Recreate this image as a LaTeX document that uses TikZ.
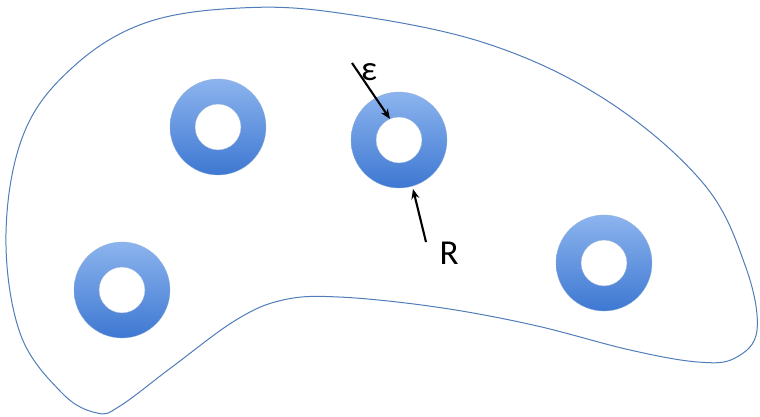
\documentclass[tikz,border=0pt]{standalone}
\usepackage{fontspec}
\setmainfont{Carlito}
\usetikzlibrary{arrows.meta}
\definecolor{ringtop}{RGB}{140,180,238}
\definecolor{ringbot}{RGB}{62,120,210}
\definecolor{ringedge}{RGB}{70,120,190}
\definecolor{blobedge}{RGB}{80,125,185}
\tikzset{
  ring/.style={even odd rule, top color=ringtop, bottom color=ringbot},
  pointer/.style={-{Stealth[length=10pt,width=8pt]}, line width=2.1pt, black},
  lab/.style={font=\fontsize{35}{37}\selectfont, inner sep=0pt}
}
\begin{document}
\begin{tikzpicture}[x=1pt,y=-1pt]
\useasboundingbox (0,0) rectangle (760,416);
% blob
\draw[blobedge, line width=1pt] plot[smooth cycle, tension=0.62] coordinates {
 (240,8) (339,13) (485,43) (606,100) (703,183) (745,265) (757,330)
 (735,358) (698,362) (630,350) (533,325) (436,307) (339,297)
 (283,300) (236,320) (172,367) (120,406) (97,413) (62,393)
 (20,333) (6,233) (24,133) (73,67) (145,23)};
% ring centres
\coordinate (r1) at (218,127);
\coordinate (r2) at (399,140);
\coordinate (r3) at (122,290);
\coordinate (r4) at (604,263);
\foreach \c in {r1,r2,r3,r4}{
  \shade[ring] (\c) circle (48) (\c) circle (23);
  \draw[ringedge!60, line width=0.3pt] (\c) circle (48) (\c) circle (23);
}
% labels
\node[lab] (eps) at (369,72) {ε};
\node[lab] (R) at (449,253) {R};
\coordinate (epsstart) at (352,63);
\coordinate (epsend) at (390,119);
\coordinate (rstart) at (426,242);
\coordinate (rend) at (413,189);
\draw[pointer] (epsstart) -- (epsend);
\draw[pointer] (rstart) -- (rend);
\end{tikzpicture}
\end{document}
